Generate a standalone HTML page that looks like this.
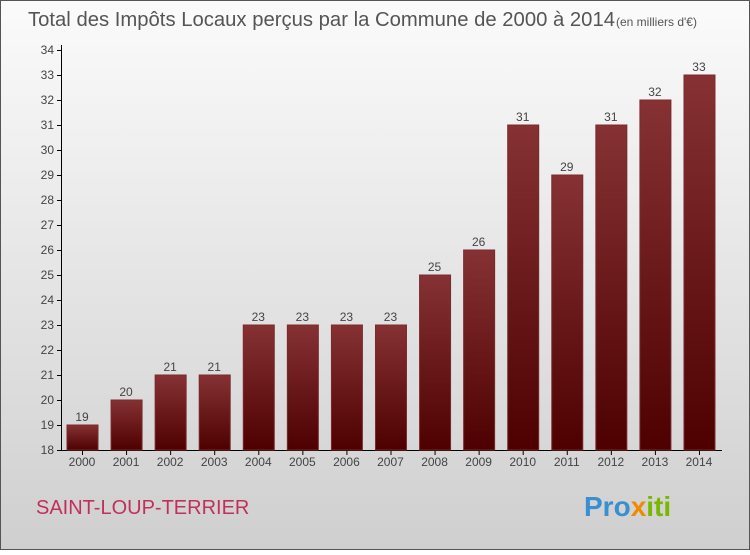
<!DOCTYPE html>
<html><head><meta charset="utf-8"><style>
body{margin:0;width:750px;height:550px;overflow:hidden;font-family:"Liberation Sans",sans-serif}
</style></head><body>
<svg id="c" width="750" height="550" xmlns="http://www.w3.org/2000/svg">
<defs>
<linearGradient id="bg" x1="0" y1="0" x2="0" y2="1"><stop offset="0" stop-color="#fbfbfb"/><stop offset="1" stop-color="#cfcfcf"/></linearGradient>
<linearGradient id="bar" x1="0" y1="0" x2="0" y2="1"><stop offset="0" stop-color="#863234"/><stop offset="1" stop-color="#4e0000"/></linearGradient>
</defs>
<rect x="0.5" y="0.5" width="749" height="549" fill="url(#bg)" stroke="#555"/>
<text x="28" y="26" font-size="20" fill="#555" textLength="587" lengthAdjust="spacingAndGlyphs">Total des Impôts Locaux perçus par la Commune de 2000 à 2014</text>
<text x="616" y="26" font-size="12" fill="#555">(en milliers d'€)</text>
<g id="axes"></g><g id="bars"></g>
<text x="36" y="514" font-size="20" fill="#c0305a">SAINT-LOUP-TERRIER</text>
<text x="584" y="516" font-size="28" font-weight="bold"><tspan fill="#3a8fd0">Pro</tspan><tspan fill="#f08a00">x</tspan><tspan fill="#7ab800">iti</tspan></text>
</svg>
<script>
const years=["2000","2001","2002","2003","2004","2005","2006","2007","2008","2009","2010","2011","2012","2013","2014"];
const values=[19,20,21,21,23,23,23,23,25,26,31,29,31,32,33];
const yTicks=[18,19,20,21,22,23,24,25,26,27,28,29,30,31,32,33,34];
const NS="http://www.w3.org/2000/svg";
const y=v=>450-(v-18)*25;
const x=i=>82+i*44.07;
const ax=document.getElementById('axes'),bg=document.getElementById('bars');
function mk(t,a,p){const e=document.createElementNS(NS,t);for(const k in a)e.setAttribute(k,a[k]);p.appendChild(e);return e;}
let l=mk('line',{x1:61.5,y1:45,x2:61.5,y2:450.5,stroke:'#000'},ax);


l=mk('line',{x1:61,y1:450.5,x2:722,y2:450.5,stroke:'#000'},ax);


yTicks.forEach(v=>{
 mk('line',{x1:57,y1:y(v)+.5,x2:62,y2:y(v)+.5,stroke:'#000'},ax);
 const t=mk('text',{x:54,y:y(v)+4,'text-anchor':'end','font-size':12,fill:'#444'},ax);t.textContent=v;
 
 
});
years.forEach((yr,i)=>{
 const v=values[i];
 const r=mk('rect',{x:x(i)-15,y:y(v),width:31,height:450-y(v),fill:'url(#bar)',stroke:'#7a2a2c','stroke-width':1},bg);
 
 
 mk('line',{x1:x(i)+.5,y1:451,x2:x(i)+.5,y2:455,stroke:'#000'},ax);
 const t=mk('text',{x:x(i),y:466,'text-anchor':'middle','font-size':12,fill:'#444'},ax);t.textContent=yr;
 
 
 const vl=mk('text',{x:x(i),y:y(v)-4,'text-anchor':'middle','font-size':12,fill:'#444'},bg);vl.textContent=v;
 
 
});
</script>
</body></html>
